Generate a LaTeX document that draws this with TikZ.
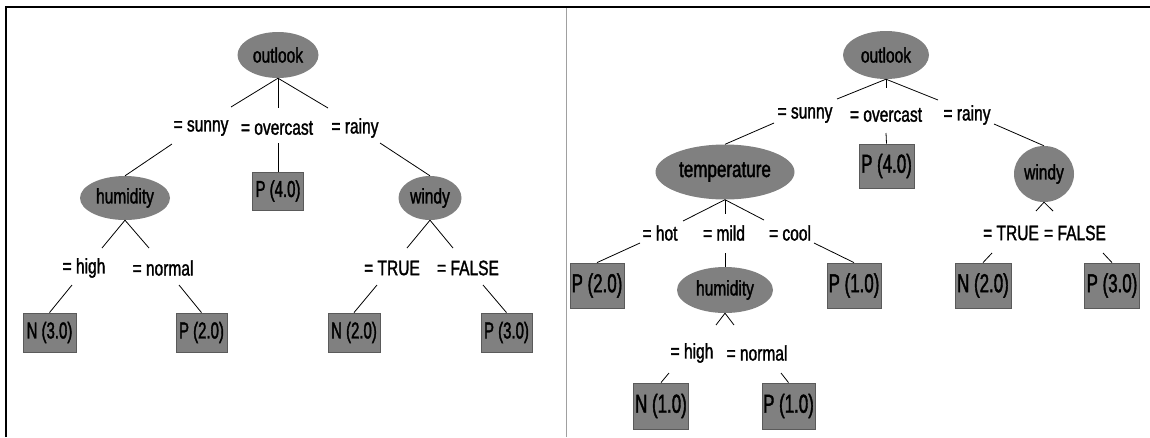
\documentclass[tikz,border=0pt]{standalone}
\usepackage{fontspec}
\setmainfont{Liberation Sans}[FakeStretch=0.74, FakeBold=1.5]
\newfontfamily\leaffont{Liberation Sans}[FakeStretch=0.65, FakeBold=1.5]
\usetikzlibrary{shapes.geometric}
\definecolor{nodegray}{RGB}{128,128,128}
\definecolor{rimgray}{RGB}{90,90,90}
\definecolor{rulegray}{RGB}{160,160,160}
\tikzset{
  every node/.style={font=\fontsize{21}{21}\selectfont, text=black},
  attr/.style args={#1 and #2}{ellipse, fill=nodegray, draw=none,
    minimum width=#1, minimum height=#2, inner sep=0pt},
  leaf/.style args={#1 and #2}{rectangle, fill=nodegray, draw=rimgray,
    line width=0.8pt, minimum width=#1, minimum height=#2, inner sep=0pt,
    font=\leaffont\fontsize{23}{23}\selectfont},
  bigleaf/.style={font=\leaffont\fontsize{26}{26}\selectfont},
  val/.style={inner sep=0pt},
  branch/.style={draw=black, line width=0.8pt},
}
\begin{document}
\begin{tikzpicture}[x=1pt, y=-1pt]
\useasboundingbox (0,0) rectangle (1150,437);

% frame and divider
\draw[line width=2pt] (6,437) -- (6,7) -- (1150,7);
\draw[rulegray, line width=1pt] (566,8) -- (566,437);

% ---------------- left tree ----------------
\node[attr=81pt and 46pt] (oL) at (278,55) {outlook};
\node[val] (sunL)  at (201,128) {= sunny};
\node[val] (ovL)   at (277,128) {= overcast};
\node[val] (rainL) at (355,128) {= rainy};
\node[attr=90pt and 44pt] (humL) at (125,198) {humidity};
\node[leaf=51pt and 38pt] (p4L) at (278,191) {P (4.0)};
\node[attr=63pt and 44pt] (windL) at (430,198) {windy};
\node[val] (hiL) at (84,268) {= high};
\node[val] (noL) at (163,268) {= normal};
\node[val] (trL) at (392,268) {= TRUE};
\node[val] (faL) at (468,268) {= FALSE};
\node[leaf=53pt and 39pt] (n3L) at (49.5,332.5) {N (3.0)};
\node[leaf=51pt and 39pt] (p2L) at (201.5,332.5) {P (2.0)};
\node[leaf=52pt and 39pt] (n2L) at (354,332.5) {N (2.0)};
\node[leaf=51pt and 39pt] (p3L) at (506.5,332.5) {P (3.0)};

\coordinate (aL1) at (231,107);
\coordinate (aL2) at (278,108);
\coordinate (aL3) at (328,108);
\coordinate (bL1) at (172,144);
\coordinate (bL2) at (278,143);
\coordinate (bL3) at (380,143);
\coordinate (cL1) at (102,248);
\coordinate (cL2) at (149,248);
\coordinate (cL3) at (407,248);
\coordinate (cL4) at (453,248);
\coordinate (dL1) at (72,285);
\coordinate (dL2) at (179,285);
\coordinate (dL3) at (377,285);
\coordinate (dL4) at (483,285);

\draw[branch] (oL.south) -- (aL1);
\draw[branch] (oL.south) -- (aL2);
\draw[branch] (oL.south) -- (aL3);
\draw[branch] (bL1) -- (humL.north);
\draw[branch] (bL2) -- (p4L.north);
\draw[branch] (bL3) -- (windL.north);
\draw[branch] (humL.south) -- (cL1);
\draw[branch] (humL.south) -- (cL2);
\draw[branch] (windL.south) -- (cL3);
\draw[branch] (windL.south) -- (cL4);
\draw[branch] (dL1) -- (n3L.north);
\draw[branch] (dL2) -- (p2L.north);
\draw[branch] (dL3) -- (n2L.north);
\draw[branch] (dL4) -- (p3L.north);

% ---------------- right tree ----------------
\node[attr=86pt and 48pt] (oR) at (886,55) {outlook};
\node[val] (sunR)  at (805,115) {= sunny};
\node[val] (ovR)   at (886,115) {= overcast};
\node[val] (rainR) at (967,115) {= rainy};
\node[attr=139pt and 55pt, font=\fontsize{23}{23}\selectfont] (tempR) at (725,172) {temperature};
\node[leaf=55pt and 44pt, bigleaf] (p4R) at (886.5,166) {P (4.0)};
\node[attr=60pt and 56pt] (windR) at (1044,174) {windy};
\node[val] (hotR)  at (660,233) {= hot};
\node[val] (mildR) at (724,233) {= mild};
\node[val] (coolR) at (790,233) {= cool};
\node[val] (trR) at (1011,233) {= TRUE};
\node[val] (faR) at (1075,233) {= FALSE};
\node[leaf=54pt and 45pt, bigleaf] (p2R) at (597,285.5) {P (2.0)};
\node[attr=96pt and 46pt] (humR) at (725,290) {humidity};
\node[leaf=54pt and 45pt, bigleaf] (p1R) at (854,285.5) {P (1.0)};
\node[leaf=56pt and 45pt, bigleaf] (n2R) at (983,285.5) {N (2.0)};
\node[leaf=55pt and 45pt, bigleaf] (p3R) at (1112,285.5) {P (3.0)};
\node[val] (hiR) at (692,353) {= high};
\node[val] (noR) at (757,353) {= normal};
\node[leaf=55pt and 46pt, bigleaf] (n1R) at (661,406) {N (1.0)};
\node[leaf=53pt and 46pt, bigleaf] (p1bR) at (788.5,406) {P (1.0)};

\coordinate (aR1) at (837,99);
\coordinate (aR2) at (886,88);
\coordinate (aR3) at (938,100);
\coordinate (bR1) at (774,123);
\coordinate (bR2) at (886,133);
\coordinate (bR3) at (994,124);
\coordinate (cR1) at (683,221);
\coordinate (cR2) at (725,214);
\coordinate (cR3) at (764,220);
\coordinate (cR4) at (1036,211);
\coordinate (cR5) at (1053,211);
\coordinate (dR1) at (640,243);
\coordinate (dR2) at (725,253);
\coordinate (dR3) at (814,243);
\coordinate (dR4) at (992,253);
\coordinate (dR5) at (1103,253);
\coordinate (eR1) at (716,325);
\coordinate (eR2) at (734,325);
\coordinate (fR1) at (669,373);
\coordinate (fR2) at (781,373);

\draw[branch] (oR.south) -- (aR1);
\draw[branch] (oR.south) -- (aR2);
\draw[branch] (oR.south) -- (aR3);
\draw[branch] (bR1) -- (tempR.north);
\draw[branch] (bR2) -- (p4R.north);
\draw[branch] (bR3) -- (windR.north);
\draw[branch] (tempR.south) -- (cR1);
\draw[branch] (tempR.south) -- (cR2);
\draw[branch] (tempR.south) -- (cR3);
\draw[branch] (windR.south) -- (cR4);
\draw[branch] (windR.south) -- (cR5);
\draw[branch] (dR1) -- (p2R.north);
\draw[branch] (dR2) -- (humR.north);
\draw[branch] (dR3) -- (p1R.north);
\draw[branch] (dR4) -- (n2R.north);
\draw[branch] (dR5) -- (p3R.north);
\draw[branch] (humR.south) -- (eR1);
\draw[branch] (humR.south) -- (eR2);
\draw[branch] (fR1) -- (n1R.north);
\draw[branch] (fR2) -- (p1bR.north);
\end{tikzpicture}
\end{document}
